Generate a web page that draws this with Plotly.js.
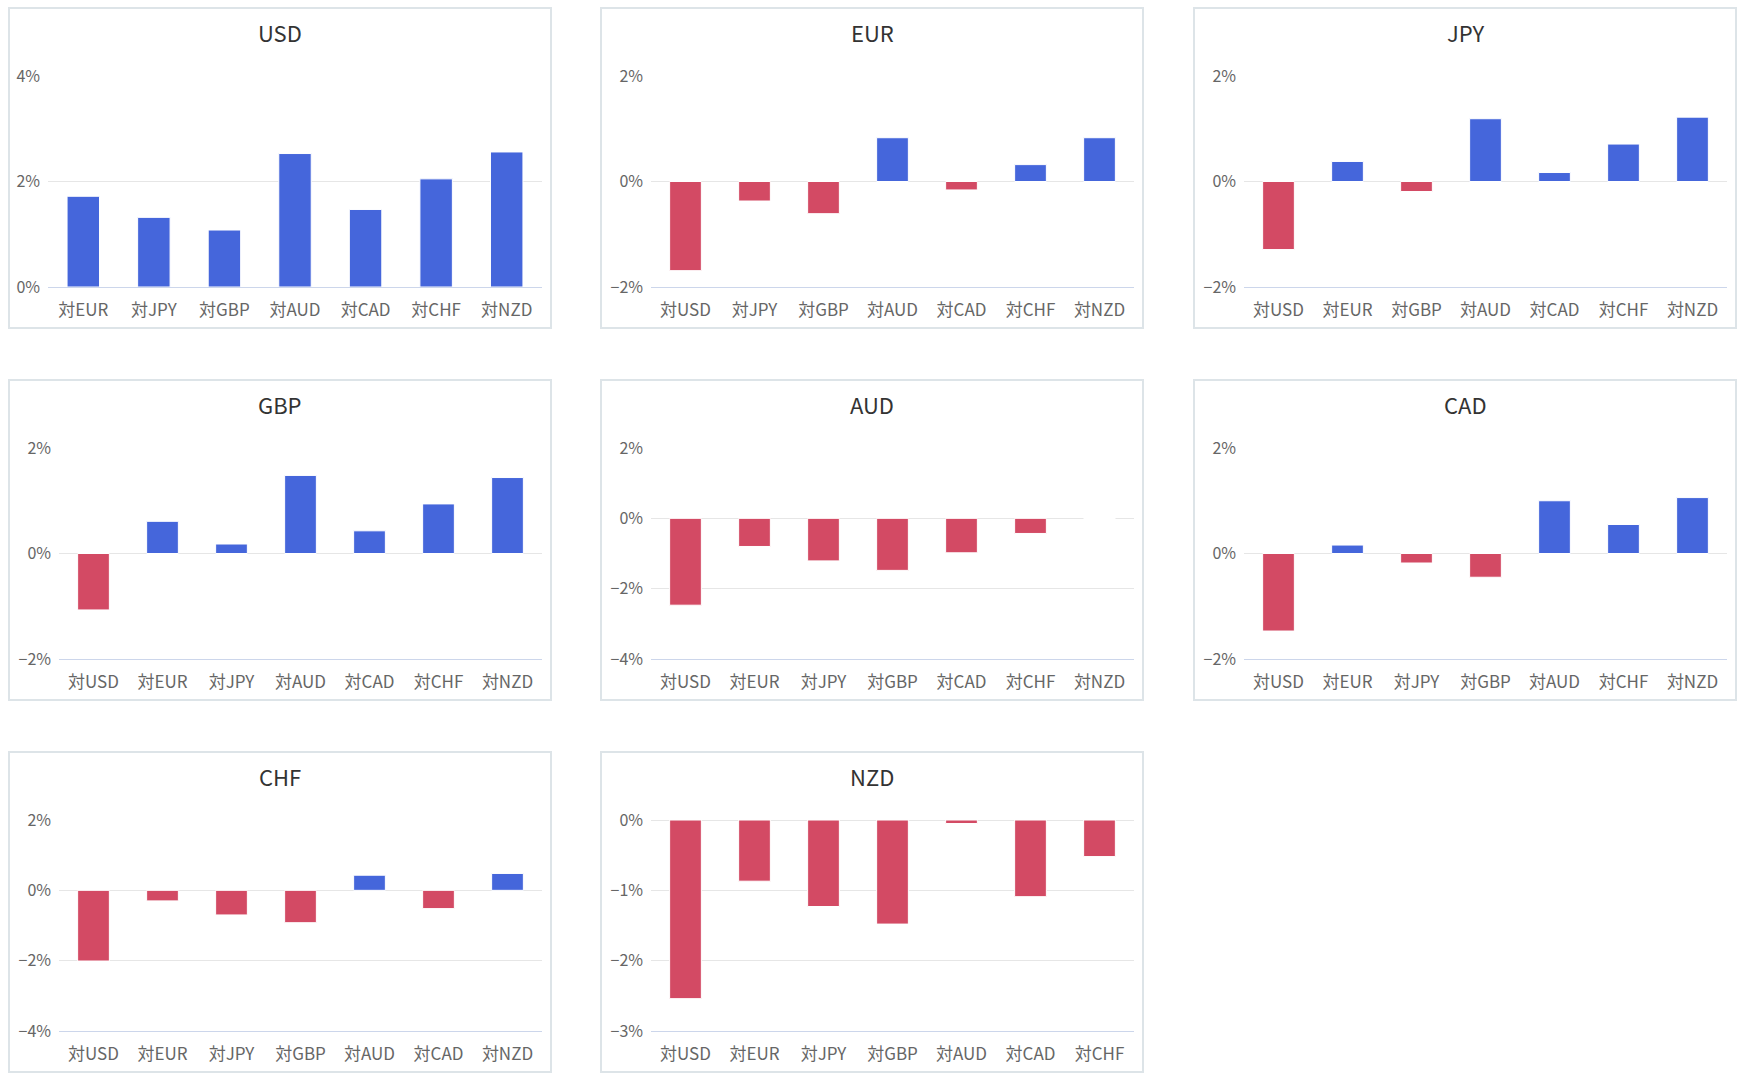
<!DOCTYPE html>
<html>
<head>
<meta charset="utf-8">
<script src="https://cdn.plot.ly/plotly-3.0.1.min.js"></script>
<style>
html,body{margin:0;padding:0;background:#fff;}
#chart{width:1748px;height:1088px;}
</style>
</head>
<body>
<div id="chart"></div>
<script>
// ---- data (percent change) ----
const panelNames = ['USD','EUR','JPY','GBP','AUD','CAD','CHF','NZD'];

const usdCats = ['対EUR','対JPY','対GBP','対AUD','対CAD','対CHF','対NZD'];
const usdVals = [1.72, 1.32, 1.08, 2.53, 1.47, 2.05, 2.56];

const eurCats = ['対USD','対JPY','対GBP','対AUD','対CAD','対CHF','対NZD'];
const eurVals = [-1.69, -0.37, -0.61, 0.83, -0.16, 0.32, 0.83];

const jpyCats = ['対USD','対EUR','対GBP','対AUD','対CAD','対CHF','対NZD'];
const jpyVals = [-1.29, 0.38, -0.19, 1.19, 0.17, 0.71, 1.22];

const gbpCats = ['対USD','対EUR','対JPY','対AUD','対CAD','対CHF','対NZD'];
const gbpVals = [-1.07, 0.61, 0.18, 1.48, 0.43, 0.94, 1.44];

const audCats = ['対USD','対EUR','対JPY','対GBP','対CAD','対CHF','対NZD'];
const audVals = [-2.47, -0.80, -1.21, -1.48, -0.98, -0.43, 0.0];

const cadCats = ['対USD','対EUR','対JPY','対GBP','対AUD','対CHF','対NZD'];
const cadVals = [-1.47, 0.16, -0.18, -0.45, 1.00, 0.55, 1.06];

const chfCats = ['対USD','対EUR','対JPY','対GBP','対AUD','対CAD','対NZD'];
const chfVals = [-2.01, -0.30, -0.70, -0.92, 0.43, -0.52, 0.48];

const nzdCats = ['対USD','対EUR','対JPY','対GBP','対AUD','対CAD','対CHF'];
const nzdVals = [-2.54, -0.87, -1.23, -1.48, -0.05, -1.09, -0.52];

// y-axis tick ranges per panel
const yRanges = [[0,4],[-2,2],[-2,2],[-2,2],[-4,2],[-2,2],[-4,2],[-3,0]];
const yDticks = [2,2,2,2,2,2,2,1];

const allCats = [usdCats,eurCats,jpyCats,gbpCats,audCats,cadCats,chfCats,nzdCats];
const allVals = [usdVals,eurVals,jpyVals,gbpVals,audVals,cadVals,chfVals,nzdVals];

// ---- layout ----
const W = 1748, H = 1088;
const colLeft = [8, 600, 1193];
const rowTop = [7, 379, 751];
const panelW = 544, panelH = 322;
const POS = '#4566db', NEG = '#d34a64';
const FONT = '"Noto Sans CJK JP", "Noto Sans", sans-serif';

const data = [];
const layout = {
  width: W, height: H,
  margin: {l:0, r:0, t:0, b:0},
  paper_bgcolor: '#ffffff',
  plot_bgcolor: 'rgba(0,0,0,0)',
  showlegend: false,
  bargap: 0.54,
  font: {family: FONT, color: '#666666', size: 17},
  shapes: [],
  annotations: []
};

panelNames.forEach((name, i) => {
  const col = i % 3, row = Math.floor(i / 3);
  const L = colLeft[col], T = rowTop[row];
  const hasMinus = yRanges[i][0] < 0;
  const plotL = L + (hasMinus ? 51 : 40);
  const plotR = L + 534;
  const plotT = T + 69;
  const plotB = T + 280;
  const xid = i === 0 ? 'x' : 'x' + (i + 1);
  const yid = i === 0 ? 'y' : 'y' + (i + 1);
  const xkey = i === 0 ? 'xaxis' : 'xaxis' + (i + 1);
  const ykey = i === 0 ? 'yaxis' : 'yaxis' + (i + 1);

  data.push({
    type: 'bar',
    x: allCats[i],
    y: allVals[i],
    xaxis: xid, yaxis: yid,
    marker: {
      color: allVals[i].map(v => v >= 0 ? POS : NEG),
      line: {color: '#ffffff', width: 1}
    },
    hoverinfo: 'x+y'
  });

  layout[xkey] = {
    domain: [plotL / W, plotR / W],
    anchor: yid,
    type: 'category',
    showgrid: false,
    zeroline: false,
    showline: true,
    linecolor: '#ccd6eb',
    linewidth: 1,
    ticks: '',
    ticklabelstandoff: 8,
    tickfont: {family: FONT, size: 17, color: '#666666'},
    fixedrange: true
  };
  layout[ykey] = {
    domain: [1 - plotB / H, 1 - plotT / H],
    anchor: xid,
    range: yRanges[i],
    dtick: yDticks[i],
    tick0: 0,
    ticksuffix: '%',
    showgrid: true,
    gridcolor: '#e6e6e6',
    gridwidth: 1,
    zeroline: true,
    zerolinecolor: '#e6e6e6',
    zerolinewidth: 1,
    showline: false,
    ticks: '',
    ticklabelstandoff: 7,
    tickfont: {family: FONT, size: 16, color: '#666666'},
    fixedrange: true
  };

  layout.shapes.push({
    type: 'rect', xref: 'paper', yref: 'paper', layer: 'below',
    x0: (L + 1) / W, x1: (L + panelW - 1) / W,
    y0: 1 - (T + panelH - 1) / H, y1: 1 - (T + 1) / H,
    line: {color: '#dde4e8', width: 2},
    fillcolor: 'rgba(0,0,0,0)'
  });

  layout.annotations.push({
    xref: 'paper', yref: 'paper',
    x: (L + panelW / 2) / W, y: 1 - (T + 25) / H,
    xanchor: 'center', yanchor: 'middle',
    text: name, showarrow: false,
    font: {family: FONT, size: 22, color: '#333333'}
  });
});

Plotly.newPlot('chart', data, layout, {displayModeBar: false, staticPlot: true});
</script>
</body>
</html>
